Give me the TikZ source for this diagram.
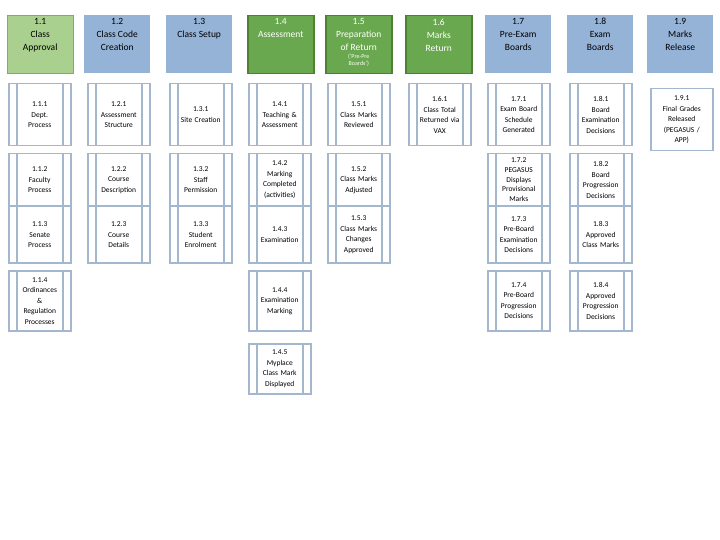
\documentclass[tikz,border=0pt]{standalone}
\usepackage{fontspec}
\setmainfont{Carlito}
\usepackage{tikz}
\definecolor{lightgreen}{HTML}{A9D08E}
\definecolor{paleblue}{HTML}{95B3D7}
\definecolor{darkgreen}{HTML}{6AA84F}
\definecolor{greenedge}{HTML}{4F7F31}
\definecolor{subedge}{HTML}{A3B7CE}
% heading text sits at the top of its box
\newcommand{\toptext}[1]{\parbox[t][54pt][t]{62pt}{\centering\vspace*{1pt}#1}}
\tikzset{
x=1pt, y=-1pt, % pixel-like units, y grows downwards
head/.style={anchor=north west, minimum width=66pt, minimum height=58pt, inner sep=2pt,
  align=center, font=\fontsize{9.5}{13}\selectfont},
headA/.style={head, fill=lightgreen, draw=lightgreen!80!black},
headB/.style={head, fill=paleblue},
headC/.style={head, fill=darkgreen, draw=greenedge, line width=1.5pt, text=white},
sub/.style={anchor=north west, minimum width=62pt, text width=60pt, align=center, inner sep=1pt,
  draw=subedge, line width=1.5pt, font=\fontsize{7.5}{10.5}\selectfont,
  path picture={\draw[subedge, line width=1.5pt]
    ([xshift=8pt]path picture bounding box.north west) -- ([xshift=8pt]path picture bounding box.south west)
    ([xshift=-8pt]path picture bounding box.north east) -- ([xshift=-8pt]path picture bounding box.south east);}},
rowA/.style={sub, minimum height=62pt},
rowB/.style={sub, minimum height=52pt},
rowC/.style={sub, minimum height=56pt},
rowD/.style={sub, minimum height=60pt},
rowE/.style={sub, minimum height=50pt},
}
\begin{document}
\begin{tikzpicture}
\useasboundingbox (0,0) rectangle (720,540);
% column headings
\node[headA] (h1) at (7,15) {\toptext{1.1\\Class\\Approval}};
\node[headB] (h2) at (84,15) {\toptext{1.2\\Class Code\\Creation}};
\node[headB] (h3) at (166,15) {\toptext{1.3\\Class Setup}};
\node[headC, inner sep=1.5pt] (h4) at (247,15) {\toptext{1.4\\Assessment}};
\node[headC, inner sep=1.5pt] (h5) at (325,15) {\toptext{1.5\\Preparation\\of Return\par
  {\fontsize{6}{7.5}\selectfont (`Pre-Pre\\Boards')\par}}};
\node[headC, inner sep=1.5pt] (h6) at (405,15) {\toptext{1.6\\Marks\\Return}};
\node[headB] (h7) at (485,15) {\toptext{1.7\\Pre-Exam\\Boards}};
\node[headB] (h8) at (567,15) {\toptext{1.8\\Exam\\Boards}};
\node[headB] (h9) at (647,15) {\toptext{1.9\\Marks\\Release}};
% 1.1
\node[rowA] (s11a) at (8,83) {1.1.1\\Dept.\\Process};
\node[rowB] (s11b) at (8,153) {1.1.2\\Faculty\\Process\\[8pt]};
\node[rowC] (s11c) at (8,206) {1.1.3\\Senate\\Process\\[8pt]};
\node[rowD] (s11d) at (8,270) {1.1.4\\Ordinances\\\&\\Regulation\\Processes};
% 1.2
\node[rowA] (s12a) at (87,83) {1.2.1\\Assessment\\Structure};
\node[rowB] (s12b) at (87,153) {1.2.2\\Course\\Description};
\node[rowC] (s12c) at (87,206) {1.2.3\\Course\\Details\\[8pt]};
% 1.3
\node[rowA] (s13a) at (169,83) {1.3.1\\Site Creation};
\node[rowB] (s13b) at (169,153) {1.3.2\\Staff\\Permission};
\node[rowC] (s13c) at (169,206) {1.3.3\\Student\\Enrolment};
% 1.4
\node[rowA] (s14a) at (248,83) {1.4.1\\Teaching \&\\Assessment};
\node[rowB] (s14b) at (248,153) {1.4.2\\Marking\\Completed\\(activities)};
\node[rowC] (s14c) at (248,206) {1.4.3\\Examination};
\node[rowD] (s14d) at (248,270) {1.4.4\\Examination\\Marking};
\node[rowE] (s14e) at (248,343) {1.4.5\\Myplace\\Class Mark\\Displayed};
% 1.5
\node[rowA] (s15a) at (327,83) {1.5.1\\Class Marks\\Reviewed};
\node[rowB] (s15b) at (327,153) {1.5.2\\Class Marks\\Adjusted};
\node[rowC] (s15c) at (327,206) {1.5.3\\Class Marks\\Changes\\Approved};
% 1.6
\node[rowA] (s16a) at (408,83) {1.6.1\\Class Total\\Returned via\\VAX};
% 1.7
\node[rowA] (s17a) at (487,83) {1.7.1\\Exam Board\\Schedule\\Generated};
\node[rowB, font=\fontsize{7.5}{9.8}\selectfont] (s17b) at (487,153) {1.7.2\\PEGASUS\\Displays\\Provisional\\Marks};
\node[rowC] (s17c) at (487,206) {1.7.3\\Pre-Board\\Examination\\Decisions};
\node[rowD] (s17d) at (487,270) {1.7.4\\Pre-Board\\Progression\\Decisions};
% 1.8
\node[rowA] (s18a) at (569,83) {1.8.1\\Board\\Examination\\Decisions};
\node[rowB] (s18b) at (569,153) {1.8.2\\Board\\Progression\\Decisions};
\node[rowC] (s18c) at (569,206) {1.8.3\\Approved\\Class Marks};
\node[rowD] (s18d) at (569,270) {1.8.4\\Approved\\Progression\\Decisions};
% 1.9
\node[rowA, path picture={}] (s19a) at (650,88) {1.9.1\\Final Grades\\Released\\(PEGASUS /\\APP)};
\end{tikzpicture}
\end{document}
